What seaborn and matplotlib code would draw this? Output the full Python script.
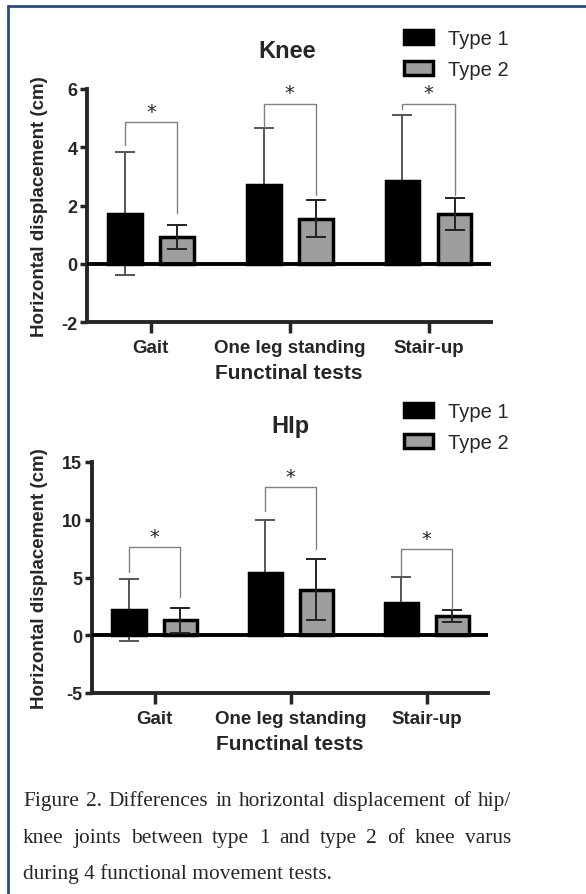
import numpy as np
import pandas as pd
import matplotlib
matplotlib.use("Agg")
import matplotlib.pyplot as plt
import seaborn as sns
from matplotlib.lines import Line2D

# data (mean and SD per test)
tests = ["Gait", "One leg standing", "Stair-up"]
groups = ["Type 1", "Type 2"]

knee_t1_mean = [1.72, 2.72, 2.84]
knee_t1_sd = [2.10, 1.93, 2.28]
knee_t2_mean = [0.92, 1.55, 1.72]
knee_t2_sd = [0.40, 0.63, 0.55]

hip_t1_mean = [2.18, 5.37, 2.78]
hip_t1_sd = [2.72, 4.62, 2.30]
hip_t2_mean = [1.28, 3.95, 1.68]
hip_t2_sd = [1.12, 2.62, 0.54]

# significance brackets: bar height, end of left leg, end of right leg
knee_br_top = [4.85, 5.50, 5.50]
knee_br_left = [4.07, 4.70, 5.30]
knee_br_right = [1.73, 2.36, 2.36]
hip_br_top = [7.60, 12.80, 7.45]
hip_br_left = [5.45, 10.80, 5.20]
hip_br_right = [3.30, 7.50, 2.30]

caption_lines = [
    "Figure 2. Differences in horizontal displacement of hip/",
    "knee joints between type 1 and type 2 of knee varus",
    "during 4 functional movement tests.",
]

sns.set_style("ticks")
plt.rcParams['font.family'] = ['Liberation Sans', 'DejaVu Sans']
plt.rcParams['axes.unicode_minus'] = False

W, H = 586, 895
fig = plt.figure(figsize=(W / 100, H / 100), dpi=100)


def fx(px):
    return px / W


def fy(px):
    return 1 - px / H


def draw_panel(ax, m1, s1, m2, s2, btop, bleft, bright, ylim, yticks, label_x):
    df = pd.DataFrame({
        "test": tests * 2,
        "group": [groups[0]] * 3 + [groups[1]] * 3,
        "value": m1 + m2,
    })
    sns.barplot(data=df, x="test", y="value", hue="group", order=tests,
                palette=["black", "#9e9e9e"], saturation=1, width=0.75, gap=0.35,
                edgecolor="black", linewidth=2.5, errorbar=None, legend=False,
                ax=ax, zorder=3)

    # error bars: type 1 behind its bar (only the part below 0 shows), type 2 in front
    for cont, means, sds, z, col in zip(ax.containers, [m1, m2], [s1, s2],
                                        [2, 4], ["#555555", "#222222"]):
        xs = [p.get_x() + p.get_width() / 2 for p in cont.patches]
        ax.errorbar(xs, means, yerr=sds, fmt="none", ecolor=col, elinewidth=1.4,
                    capsize=7, capthick=1.4, zorder=z)

    x1 = [p.get_x() + p.get_width() / 2 for p in ax.containers[0].patches]
    x2 = [p.get_x() + p.get_width() / 2 for p in ax.containers[1].patches]
    for a, b, t, l, r in zip(x1, x2, btop, bleft, bright):
        ax.plot([a, a, b, b], [l, t, t, r], color="#808080", lw=1.0, zorder=5)
        ax.annotate("*", xy=((a + b) / 2, t), xytext=(0, 1), textcoords="offset points",
                    ha="center", va="bottom", fontsize=14, family="DejaVu Sans")

    ax.axhline(0, color="black", lw=2.8, zorder=3)
    ax.set_ylim(ylim)
    ax.set_yticks(yticks)
    ax.set_xlim(-0.46, 2.45)
    sns.despine(ax=ax)
    for s in ["left", "bottom"]:
        ax.spines[s].set_linewidth(2.8)
    ax.tick_params(axis="y", length=5, width=2.5, pad=2, labelsize=13)
    ax.tick_params(axis="x", length=8, width=2.5, pad=4, labelsize=13.5)
    for lab in ax.get_xticklabels() + ax.get_yticklabels():
        lab.set_fontweight("bold")
    ax.set_xlabel("Functinal tests", fontsize=15, fontweight="bold", labelpad=5)
    ax.set_ylabel("Horizontal displacement (cm)", fontsize=13.5, fontweight="bold")
    ax.yaxis.set_label_coords(label_x, 0.5)


ax1 = fig.add_axes([fx(87), fy(323), fx(491) - fx(87), fy(90) - fy(323)])
draw_panel(ax1, knee_t1_mean, knee_t1_sd, knee_t2_mean, knee_t2_sd,
           knee_br_top, knee_br_left, knee_br_right, (-2, 6), [-2, 0, 2, 4, 6], -0.097)

ax2 = fig.add_axes([fx(92), fy(694), fx(488) - fx(92), fy(463) - fy(694)])
draw_panel(ax2, hip_t1_mean, hip_t1_sd, hip_t2_mean, hip_t2_sd,
           hip_br_top, hip_br_left, hip_br_right, (-5, 15), [-5, 0, 5, 10, 15], -0.111)

fig.text(fx(287), fy(52), "Knee", ha="center", va="center", fontsize=17, fontweight="bold")
fig.text(fx(290), fy(427), "HIp", ha="center", va="center", fontsize=17, fontweight="bold")

for ax, top in [(ax1, 30), (ax2, 403)]:
    fig.legend(ax.containers, groups, loc="upper left", bbox_to_anchor=(fx(404), fy(top)),
               frameon=False, fontsize=14.5, handlelength=1.45, handleheight=0.65,
               handletextpad=0.75, labelspacing=0.6, borderpad=0, borderaxespad=0)

# caption, first two lines justified
serif = dict(fontsize=15.4, family="Liberation Serif", va="baseline", ha="left")
x_left, x_right = fx(23), fx(511)
baselines = [806, 843, 879]
renderer = fig.canvas.get_renderer()
for i, (line, yb) in enumerate(zip(caption_lines, baselines)):
    if i == len(caption_lines) - 1:
        fig.text(x_left, fy(yb), line, **serif)
        continue
    words = line.split()
    texts = [fig.text(x_left, fy(yb), w, **serif) for w in words]
    widths = [t.get_window_extent(renderer).width / fig.bbox.width for t in texts]
    gap = (x_right - x_left - sum(widths)) / (len(words) - 1)
    x = x_left
    for t, w in zip(texts, widths):
        t.set_x(x)
        x += w + gap

# blue frame (left and top edges)
frame = "#1f4e8c"
fig.add_artist(Line2D([fx(8), fx(8)], [0, fy(7)], color=frame, lw=2))
fig.add_artist(Line2D([fx(8), 1], [fy(7), fy(7)], color=frame, lw=2))

fig.savefig("out.png", dpi=100)
